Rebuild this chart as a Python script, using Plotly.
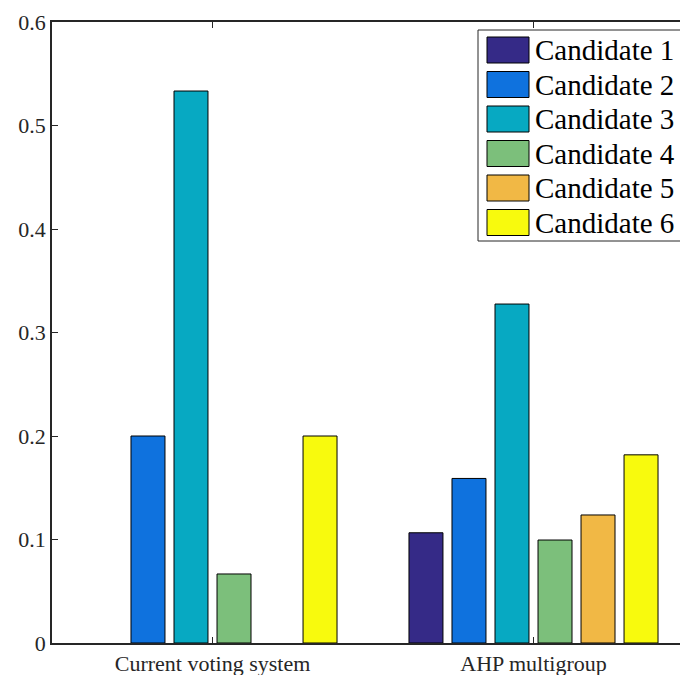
import plotly.graph_objects as go

categories = ["Current voting system", "AHP multigroup"]
candidates = ["Candidate 1", "Candidate 2", "Candidate 3", "Candidate 4", "Candidate 5", "Candidate 6"]
cand1 = [0.0, 0.1065]
cand2 = [0.2, 0.159]
cand3 = [0.5333, 0.3275]
cand4 = [0.0667, 0.0995]
cand5 = [0.0, 0.1237]
cand6 = [0.2, 0.1818]
series = [cand1, cand2, cand3, cand4, cand5, cand6]
colors = ["#352A87", "#0F72DE", "#07A9C2", "#7CBF7B", "#F1B845", "#F8FA0D"]
y_ticks = [0, 0.1, 0.2, 0.3, 0.4, 0.5, 0.6]
y_ticklabels = ["0", "0.1", "0.2", "0.3", "0.4", "0.5", "0.6"]

# the page body has an 8px margin, so figure coords = screen coords - 8
OFF = 8
W, H = 688, 675
L, T = 52 - OFF, 22 - OFF
plot_bottom = 643 - OFF
B = H - plot_bottom
pw = 642
R = W - L - pw
ph = plot_bottom - T

FONT = "Liberation Serif"
AX = "#262626"

fig = go.Figure()
for name, vals, col in zip(candidates, series, colors):
    fig.add_trace(go.Bar(
        x=categories, y=vals, name=name,
        marker=dict(color=col, line=dict(color="black", width=[0 if v == 0 else 1 for v in vals])),
        showlegend=False,
    ))

# manual MATLAB-style legend (positions given in screen pixels)
def px(xs):
    return (xs - OFF - L) / pw

def py(ys):
    return (plot_bottom - (ys - OFF)) / ph

shapes = [dict(type="rect", xref="paper", yref="paper",
               x0=px(478), x1=px(720), y0=py(241), y1=py(30),
               line=dict(color=AX, width=1), fillcolor="white", layer="above")]
annotations = []
for i, (name, col) in enumerate(zip(candidates, colors)):
    top = 37 + 34.5 * i
    shapes.append(dict(type="rect", xref="paper", yref="paper",
                       x0=px(487), x1=px(529), y0=py(top + 26), y1=py(top),
                       line=dict(color="black", width=1), fillcolor=col, layer="above"))
    annotations.append(dict(xref="paper", yref="paper", x=px(533), y=py(top + 13),
                            text=name, showarrow=False, xanchor="left", yanchor="middle",
                            font=dict(family=FONT, size=29, color="black")))

fig.update_layout(
    width=W, height=H,
    margin=dict(l=L, r=R, t=T, b=B, pad=0, autoexpand=False),
    paper_bgcolor="white", plot_bgcolor="white",
    barmode="group", bargap=0.196, bargroupgap=0.21,
    shapes=shapes, annotations=annotations,
    font=dict(family=FONT, color=AX),
)
fig.update_xaxes(
    type="category", range=[-0.5, 1.5], automargin=False,
    showline=True, linecolor=AX, linewidth=1.5, mirror="ticks",
    ticks="inside", ticklen=6, tickcolor=AX, tickwidth=1,
    tickfont=dict(family=FONT, size=22, color=AX),
    showgrid=False, zeroline=False,
)
fig.update_yaxes(
    range=[0, 0.6], tickvals=y_ticks, ticktext=y_ticklabels, automargin=False,
    showline=True, linecolor=AX, linewidth=1.5,
    ticks="inside", ticklen=6, tickcolor=AX, tickwidth=1,
    tickfont=dict(family=FONT, size=22, color=AX),
    showgrid=False, zeroline=False,
)
fig.write_html("out.html")
